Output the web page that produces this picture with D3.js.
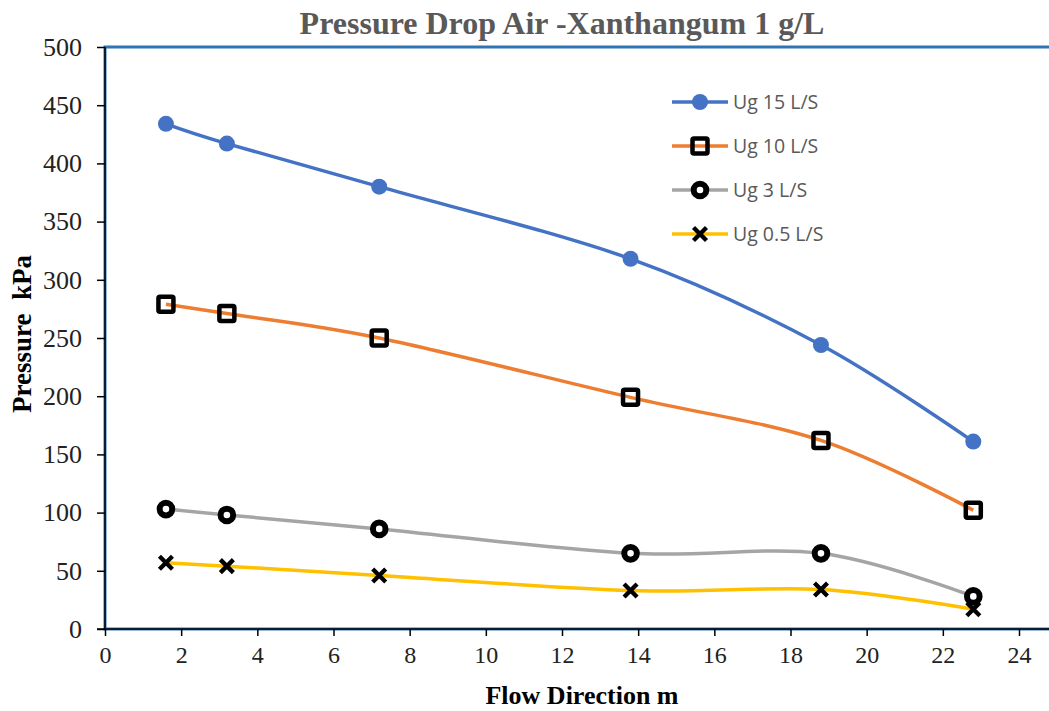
<!DOCTYPE html>
<html>
<head>
<meta charset="utf-8">
<script src="https://cdn.jsdelivr.net/npm/d3@7"></script>
<style>
  html, body { margin: 0; padding: 0; background: #fff; }
  svg { display: block; }
</style>
</head>
<body>
<svg id="chart" width="1049" height="711"></svg>
<script>
// Flow direction positions (m)
const distances = [1.6, 3.2, 7.2, 13.8, 18.8, 22.8];

// Pressure (kPa) for each gas flow rate
const ug15 = [434, 417, 380, 318, 244, 161];
const ug10 = [279, 271, 250, 199, 162, 102];
const ug3  = [103, 98, 86, 65, 65, 28];
const ug05 = [57, 54, 46, 33, 34, 17];

const seriesNames = ["Ug 15 L/S", "Ug 10 L/S", "Ug 3 L/S", "Ug 0.5 L/S"];
const xTicks = [0, 2, 4, 6, 8, 10, 12, 14, 16, 18, 20, 22, 24];
const yTicks = [0, 50, 100, 150, 200, 250, 300, 350, 400, 450, 500];

const series = [
  { name: seriesNames[0], values: ug15, color: "#4472C4", marker: "dot" },
  { name: seriesNames[1], values: ug10, color: "#ED7D31", marker: "square" },
  { name: seriesNames[2], values: ug3,  color: "#A5A5A5", marker: "ring" },
  { name: seriesNames[3], values: ug05, color: "#FFC000", marker: "cross" }
];

const serif = "'Liberation Serif', 'Times New Roman', serif";
const svg = d3.select("#chart");
const plotLeft = 105, plotTop = 47, plotBottom = 629, plotRight = 1049;

const x = d3.scaleLinear().domain([0, 24]).range([plotLeft, 1019]);
const y = d3.scaleLinear().domain([0, 500]).range([plotBottom, plotTop]);

// Plot frame
svg.append("rect")
  .attr("x", plotLeft).attr("y", plotTop)
  .attr("width", plotRight - plotLeft + 10).attr("height", plotBottom - plotTop)
  .attr("fill", "none").attr("stroke", "#2E75B6").attr("stroke-width", 3);

// Title
svg.append("text")
  .attr("x", 562).attr("y", 34)
  .attr("text-anchor", "middle")
  .attr("font-family", serif)
  .attr("font-weight", "bold").attr("font-size", 32)
  .attr("fill", "#595959")
  .text("Pressure Drop Air -Xanthangum 1 g/L");

// Axes
const yAxis = d3.axisLeft(y).tickValues(yTicks).tickSize(8).tickPadding(15);
const gy = svg.append("g").attr("transform", `translate(${plotLeft},0)`).call(yAxis);
gy.attr("font-family", serif);
gy.select(".domain").remove();
gy.selectAll(".tick line").attr("stroke", "#000").attr("stroke-width", 1.5);
gy.selectAll(".tick text")
  .attr("font-family", serif)
  .attr("font-size", 26).attr("fill", "#222");

const xAxis = d3.axisBottom(x).tickValues(xTicks).tickSize(7).tickPadding(10);
const gx = svg.append("g").attr("transform", `translate(0,${plotBottom})`).call(xAxis);
gx.attr("font-family", serif);
gx.select(".domain").remove();
gx.selectAll(".tick line").attr("stroke", "#000").attr("stroke-width", 1.5);
gx.selectAll(".tick text")
  .attr("font-family", serif)
  .attr("font-size", 24).attr("fill", "#222");

// Axis lines over the frame
svg.append("line").attr("x1", plotLeft).attr("x2", plotLeft).attr("y1", plotTop).attr("y2", plotBottom)
  .attr("stroke", "#000").attr("stroke-width", 1.5);
svg.append("line").attr("x1", plotLeft - 8).attr("x2", plotRight).attr("y1", plotBottom).attr("y2", plotBottom)
  .attr("stroke", "#000").attr("stroke-width", 1.5);

// Axis titles
svg.append("text")
  .attr("x", 582).attr("y", 704)
  .attr("text-anchor", "middle")
  .attr("font-family", serif)
  .attr("font-weight", "bold").attr("font-size", 26).attr("fill", "#000")
  .text("Flow Direction m");

svg.append("text")
  .attr("transform", "translate(31,334) rotate(-90)")
  .attr("text-anchor", "middle")
  .attr("font-family", serif)
  .attr("font-weight", "bold").attr("font-size", 27).attr("fill", "#000")
  .attr("xml:space", "preserve")
  .text("Pressure  kPa");

// Smoothed lines
const line = d3.line()
  .x((d, i) => x(distances[i]))
  .y(d => y(d))
  .curve(d3.curveCardinal.tension(0));

function drawMarker(g, type, color) {
  if (type === "dot") {
    g.append("circle").attr("r", 8).attr("fill", color);
  } else if (type === "square") {
    g.append("rect").attr("x", -7.5).attr("y", -7.5).attr("width", 15).attr("height", 15)
      .attr("rx", 1.5).attr("fill", "none").attr("stroke", "#000").attr("stroke-width", 4.5);
  } else if (type === "ring") {
    g.append("circle").attr("r", 6.3).attr("fill", "#fff")
      .attr("stroke", "#000").attr("stroke-width", 6);
  } else if (type === "cross") {
    g.append("path").attr("d", "M-6.5,-6.5L6.5,6.5M-6.5,6.5L6.5,-6.5")
      .attr("stroke", "#000").attr("stroke-width", 4.3).attr("fill", "none");
  }
}

series.forEach(s => {
  svg.append("path")
    .attr("d", line(s.values))
    .attr("fill", "none").attr("stroke", s.color).attr("stroke-width", 3.5);
});
series.forEach(s => {
  s.values.forEach((v, i) => {
    const g = svg.append("g").attr("transform", `translate(${x(distances[i])},${y(v)})`);
    drawMarker(g, s.marker, s.color);
  });
});

// Legend
series.forEach((s, i) => {
  const ly = 102 + i * 44;
  const g = svg.append("g");
  g.append("line").attr("x1", 672).attr("x2", 728).attr("y1", ly).attr("y2", ly)
    .attr("stroke", s.color).attr("stroke-width", 3.5);
  const m = g.append("g").attr("transform", `translate(700,${ly})`);
  drawMarker(m, s.marker, s.color);
  g.append("text").attr("x", 733).attr("y", ly + 7)
    .attr("font-family", "'Open Sans', 'Liberation Sans', sans-serif")
    .attr("font-size", 19.5).attr("fill", "#595959")
    .text(s.name);
});
</script>
</body>
</html>
